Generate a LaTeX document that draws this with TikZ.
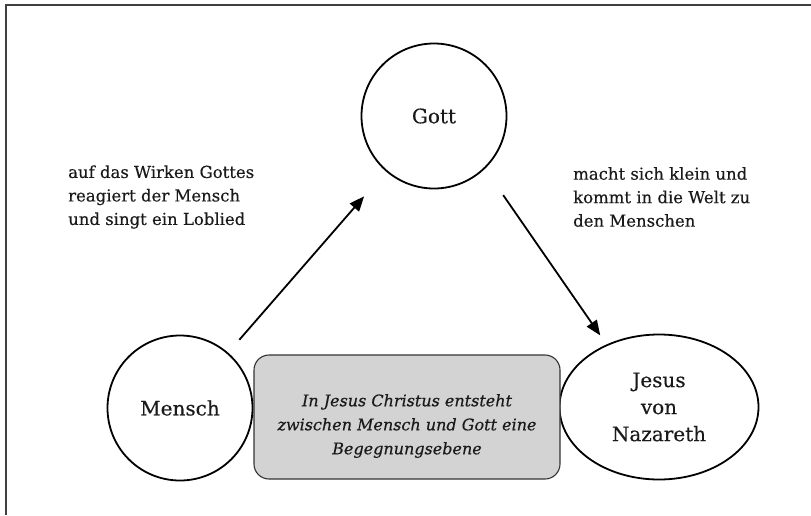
\documentclass[tikz,border=0pt]{standalone}
\usepackage{fontspec}
\setmainfont{DejaVu Serif}[FakeBold=0.35]
\usetikzlibrary{arrows.meta,shapes.geometric}
\definecolor{txt}{HTML}{1A1A1A}
\definecolor{boxfill}{HTML}{D3D3D3}
\tikzset{
  every node/.style={text=txt},
  circ/.style={circle, draw=black, line width=1.8pt, minimum size=145pt, inner sep=0pt, font=\fontsize{20}{27}\selectfont},
  ell/.style={ellipse, draw=black, line width=1.8pt, minimum width=199pt, minimum height=145pt, inner sep=0pt, align=center, font=\fontsize{20}{27}\selectfont},
  ebenebox/.style={draw=black!80, line width=1.1pt, rounded corners=15pt, fill=boxfill, minimum width=306pt, minimum height=124pt, inner sep=0pt},
  ebenetxt/.style={align=center, inner sep=0pt, font=\itshape\fontsize{16}{24}\selectfont},
  lbl/.style={align=left, inner sep=0pt, anchor=west, font=\fontsize{16.5}{23.5}\selectfont},
  arr/.style={line width=1.8pt, -{Triangle[length=15pt,width=12pt]}},
  frame/.style={line width=1.5pt, draw=black!75}
}
\begin{document}
\begin{tikzpicture}[x=1pt,y=-1pt]
\useasboundingbox (0,0) rectangle (811,515);
\coordinate (fc) at (6,5);
\coordinate (ftr) at (811,5);
\coordinate (fbl) at (6,515);
\draw[frame] (ftr) -- (fc) -- (fbl);

\node[circ] (gott) at (434,116) {Gott};
\node[circ] (mensch) at (180,408) {Mensch};
\node[ell] (jesus) at (659,407) {Jesus\\von\\Nazareth};
\node[ebenebox] (ebene) at (407,417) {};
\node[ebenetxt] (ebenetext) at (407,426) {In Jesus Christus entsteht\\zwischen Mensch und Gott eine\\Begegnungsebene};

\node[lbl] (links) at (68,197) {auf das Wirken Gottes\\reagiert der Mensch\\und singt ein Loblied};
\node[lbl] (rechts) at (573,197) {macht sich klein und\\kommt in die Welt zu\\den Menschen};

\draw[arr, shorten <=17pt, shorten >=33pt] (mensch) -- (gott);
\draw[arr, shorten <=32pt, shorten >=11pt] (gott.-46.6) -- (jesus.130.6);
\end{tikzpicture}
\end{document}
